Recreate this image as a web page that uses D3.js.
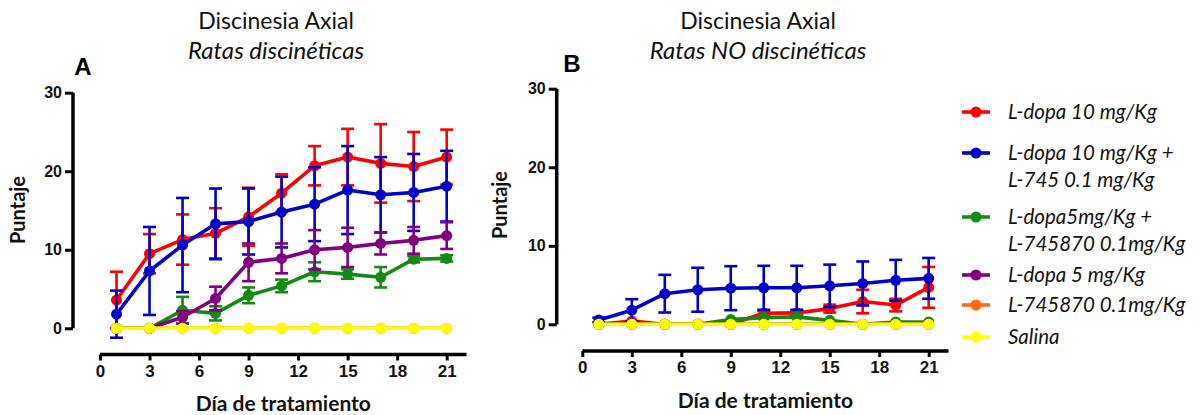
<!DOCTYPE html>
<html>
<head>
<meta charset="utf-8">
<script src="https://cdn.jsdelivr.net/npm/d3@7"></script>
<style>
  body { margin: 0; background: #fff; }
  svg { display: block; }
  .title { font-family: Lato, "Open Sans", sans-serif; font-size: 23px; fill: #111; }
  .tick text { font-family: "Liberation Sans", Arial, sans-serif; font-weight: bold; }
  .lbl { font-family: Lato, "Open Sans", sans-serif; font-weight: bold; fill: #111; }
  .legend text { font-family: Lato, "Open Sans", sans-serif; font-style: italic; font-size: 20.5px; fill: #111; }
</style>
</head>
<body>
<div id="chart"></div>
<script>
// days measured
var days = [1, 3, 5, 7, 9, 11, 13, 15, 17, 19, 21];
var xTicks = [0, 3, 6, 9, 12, 15, 18, 21];
var yTicks = [0, 10, 20, 30];

// series names (legend order = drawing order)
var seriesNames = ["L-dopa 10 mg/Kg", "L-dopa 10 mg/Kg +|L-745 0.1 mg/Kg", "L-dopa5mg/Kg +|L-745870 0.1mg/Kg",
  "L-dopa 5 mg/Kg", "L-745870 0.1mg/Kg", "Salina"];
var seriesColors = ["#ff0000", "#0000c8", "#138a13", "#800080", "#ff6a13", "#ffff00"];

// panel A - ratas discinéticas (mean, SEM)
var ldopa10A    = [3.6, 9.5, 11.3, 12.1, 14.2, 17.2, 20.7, 21.8, 21.0, 20.6, 21.8];
var ldopa10A_e  = [3.6, 2.5, 3.2, 3.2, 3.7, 2.4, 2.5, 3.6, 5.0, 4.4, 3.5];
var combo10A    = [1.8, 7.3, 10.6, 13.3, 13.6, 14.8, 15.8, 17.6, 17.0, 17.3, 18.1];
var combo10A_e  = [3.0, 5.6, 6.0, 4.5, 4.2, 4.5, 4.7, 5.6, 4.8, 4.9, 4.5];
var combo5A     = [0, 0, 2.3, 1.9, 4.2, 5.4, 7.2, 6.9, 6.5, 8.8, 8.9];
var combo5A_e   = [0, 0, 1.7, 0.9, 1.0, 0.8, 1.2, 0.6, 1.3, 0.4, 0.4];
var ldopa5A     = [0, 0, 1.4, 3.8, 8.4, 8.9, 10.0, 10.3, 10.8, 11.2, 11.8];
var ldopa5A_e   = [0, 0, 0.8, 1.5, 2.4, 1.9, 2.5, 2.5, 1.4, 1.7, 1.7];
var l745A       = [0, 0, 0, 0, 0, 0, 0, 0, 0, 0, 0];
var l745A_e     = [0, 0, 0, 0, 0, 0, 0, 0, 0, 0, 0];
var salinaA     = [0, 0, 0, 0, 0, 0, 0, 0, 0, 0, 0];
var salinaA_e   = [0, 0, 0, 0, 0, 0, 0, 0, 0, 0, 0];

// panel B - ratas NO discinéticas
var ldopa10B    = [0, 0.4, 0, 0, 0, 1.4, 1.45, 2.0, 2.9, 2.45, 4.7];
var ldopa10B_e  = [0, 0, 0, 0, 0, 0.3, 0.3, 0.5, 1.5, 0.8, 2.6];
var combo10B    = [0.55, 1.8, 3.9, 4.4, 4.6, 4.65, 4.65, 4.9, 5.2, 5.6, 5.85];
var combo10B_e  = [0.3, 1.4, 2.4, 2.8, 2.8, 2.8, 2.8, 2.7, 2.8, 2.6, 2.6];
var combo5B     = [0, 0, 0, 0, 0.6, 0.85, 0.95, 0.5, 0, 0.3, 0.3];
var combo5B_e   = [0, 0, 0, 0, 0, 0, 0, 0, 0, 0, 0];
var ldopa5B     = [0, 0, 0, 0, 0, 0, 0, 0, 0, 0, 0];
var ldopa5B_e   = [0, 0, 0, 0, 0, 0, 0, 0, 0, 0, 0];
var l745B       = [0, 0, 0, 0, 0, 0, 0, 0, 0, 0, 0];
var l745B_e     = [0, 0, 0, 0, 0, 0, 0, 0, 0, 0, 0];
var salinaB     = [0, 0, 0, 0, 0, 0, 0, 0, 0, 0, 0];
var salinaB_e   = [0, 0, 0, 0, 0, 0, 0, 0, 0, 0, 0];

var panelA = {
  letter: "A", title: "Discinesia Axial", subtitle: "Ratas discinéticas",
  means: [ldopa10A, combo10A, combo5A, ldopa5A, l745A, salinaA],
  errs: [ldopa10A_e, combo10A_e, combo5A_e, ldopa5A_e, l745A_e, salinaA_e],
  x0: 100, x1: 466.5, y0: 328.3, y1: 92.7, yAxisX: 73, xAxisY: 354.5,
  titleX: 276, letterX: 83, letterY: 75, ylabX: 18, ylabY: 210, xlabY: 411
};
var panelB = {
  letter: "B", title: "Discinesia Axial", subtitle: "Ratas NO discinéticas",
  means: [ldopa10B, combo10B, combo5B, ldopa5B, l745B, salinaB],
  errs: [ldopa10B_e, combo10B_e, combo5B_e, ldopa5B_e, l745B_e, salinaB_e],
  x0: 582.3, x1: 948.5, y0: 324.3, y1: 88.7, yAxisX: 556.7, xAxisY: 351,
  titleX: 758, letterX: 572, letterY: 72, ylabX: 500, ylabY: 205, xlabY: 408
};

var W = 1199, H = 415;
var svg = d3.select("#chart").append("svg")
  .attr("width", W).attr("height", H);

function drawPanel(p) {
  var g = svg.append("g");

  var x = d3.scaleLinear().domain([0, 22.2]).range([p.x0, p.x1]);
  var y = d3.scaleLinear().domain([0, 30]).range([p.y0, p.y1]);

  // titles
  g.append("text").attr("class", "title")
    .attr("x", p.titleX).attr("y", 29).attr("text-anchor", "middle")
    .text(p.title);
  g.append("text").attr("class", "title")
    .attr("x", p.titleX).attr("y", 59).attr("text-anchor", "middle")
    .style("font-style", "italic").style("font-size", "24px")
    .text(p.subtitle);
  g.append("text")
    .attr("x", p.letterX).attr("y", p.letterY).attr("text-anchor", "middle")
    .style("font-family", "'Liberation Sans', Arial, sans-serif")
    .style("font-weight", "bold").style("font-size", "24px")
    .text(p.letter);

  // y axis
  var yAxis = g.append("g")
    .attr("transform", "translate(" + p.yAxisX + ",0)")
    .call(d3.axisLeft(y).tickValues(yTicks).tickSize(8).tickPadding(3));
  yAxis.select(".domain").attr("stroke-width", 3.5).attr("d", "M0," + y(30) + "V" + y(0));
  yAxis.selectAll(".tick line").attr("stroke-width", 3);
  yAxis.selectAll(".tick text").style("font-size", "16px").attr("fill", "#111");

  // x axis (offset below the plot)
  var xAxis = g.append("g")
    .attr("transform", "translate(0," + p.xAxisY + ")")
    .call(d3.axisBottom(x).tickValues(xTicks).tickSize(6).tickPadding(4));
  xAxis.select(".domain").attr("stroke-width", 3.5).attr("d", "M" + x(0) + ",0H" + x(22.2));
  xAxis.selectAll(".tick line").attr("stroke-width", 3);
  xAxis.selectAll(".tick text").style("font-size", "17px").attr("fill", "#111");

  // axis labels
  g.append("text").attr("class", "lbl")
    .attr("text-anchor", "middle").style("font-size", "20px")
    .attr("transform", "translate(" + p.ylabX + "," + p.ylabY + ") rotate(-90)")
    .attr("dy", "0.35em")
    .text("Puntaje");
  g.append("text").attr("class", "lbl")
    .attr("x", (x(0) + x(22.2)) / 2).attr("y", p.xlabY)
    .attr("text-anchor", "middle").style("font-size", "21px")
    .text("Día de tratamiento");

  // series: error bars, line, markers
  var line = d3.line()
    .x(function(d) { return x(d.day); })
    .y(function(d) { return y(d.v); });

  p.means.forEach(function(vals, si) {
    var col = seriesColors[si];
    var pts = days.map(function(d, i) { return {day: d, v: vals[i], e: p.errs[si][i]}; });
    var sg = g.append("g");

    var eb = sg.selectAll(".eb").data(pts.filter(function(d) { return d.e > 0; }))
      .enter().append("g").attr("class", "eb")
      .attr("stroke", col).attr("stroke-width", 2.6);
    eb.append("line")
      .attr("x1", function(d) { return x(d.day); }).attr("x2", function(d) { return x(d.day); })
      .attr("y1", function(d) { return y(d.v + d.e); }).attr("y2", function(d) { return y(d.v - d.e); });
    [1, -1].forEach(function(s) {
      eb.append("line")
        .attr("x1", function(d) { return x(d.day) - 6.5; }).attr("x2", function(d) { return x(d.day) + 6.5; })
        .attr("y1", function(d) { return y(d.v + s * d.e); }).attr("y2", function(d) { return y(d.v + s * d.e); });
    });

    sg.append("path").datum(pts)
      .attr("fill", "none").attr("stroke", col).attr("stroke-width", 3.6)
      .attr("stroke-linejoin", "round")
      .attr("d", line);

    sg.selectAll("circle").data(pts).enter().append("circle")
      .attr("cx", function(d) { return x(d.day); })
      .attr("cy", function(d) { return y(d.v); })
      .attr("r", 5.5).attr("fill", col);
  });
}

drawPanel(panelA);
drawPanel(panelB);

// legend
var legendRows = [112, 153, 217, 275, 305, 337];
var legend = svg.append("g").attr("class", "legend");
seriesNames.forEach(function(name, i) {
  var row = legend.append("g").attr("transform", "translate(0," + legendRows[i] + ")");
  row.append("line").attr("x1", 962).attr("x2", 990).attr("y1", 0).attr("y2", 0)
    .attr("stroke", seriesColors[i]).attr("stroke-width", 3.6);
  row.append("circle").attr("cx", 976).attr("cy", 0).attr("r", 5.5).attr("fill", seriesColors[i]);
  name.split("|").forEach(function(part, j) {
    row.append("text").attr("x", 1008).attr("y", j * 27).attr("dy", "0.35em").text(part);
  });
});
</script>
</body>
</html>
